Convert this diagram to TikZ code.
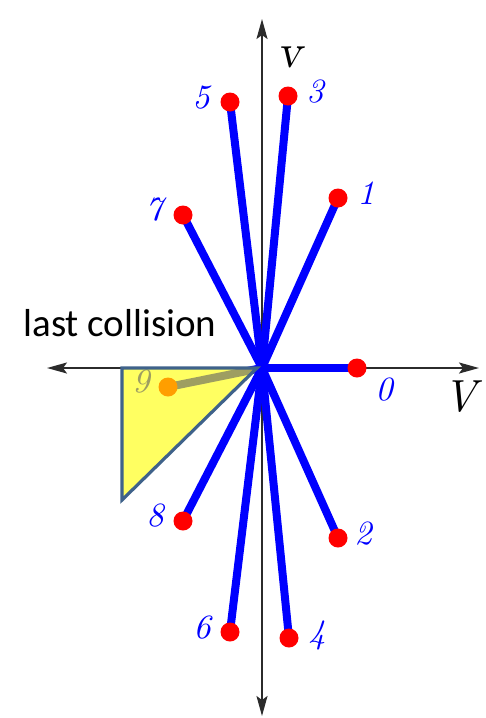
\documentclass[tikz,border=0pt]{standalone}
\usepackage{fontspec}
\usepackage{tikz}
\usetikzlibrary{arrows.meta}
\newfontfamily\calibrifont{Carlito}
\newfontfamily\cmitfont{lmroman10-italic}[Extension=.otf]
\newfontfamily\cmslfont{lmromanslant10-regular}[Extension=.otf]
\definecolor{rayblue}{HTML}{0000FF}
\definecolor{tipred}{HTML}{FF0000}
\definecolor{axisgray}{HTML}{2B2B2B}
\definecolor{hiyellow}{HTML}{FFFF00}
\definecolor{hiedge}{HTML}{3F628A}
\tikzset{
  axisline/.style={
    {Stealth[length=20pt,width=11pt,inset=4pt]}-{Stealth[length=20pt,width=11pt,inset=4pt]},
    line width=2pt,
    draw=axisgray
  },
  ray/.style={
    line width=8pt,
    draw=rayblue
  },
  tipdot/.style={
    circle,
    fill=tipred,
    minimum size=19pt,
    inner sep=0pt
  },
  raylabel/.style={
    text=rayblue,
    inner sep=0pt,
    font=\cmitfont\fontsize{34}{40}\selectfont
  },
  axislabel/.style={
    text=black,
    inner sep=0pt
  },
  wedge/.style={
    fill=hiyellow,
    fill opacity=0.62,
    draw=hiedge,
    line width=3.2pt,
    line join=miter
  }
}

\begin{document}
\begin{tikzpicture}[x=1pt,y=-1pt]
  \useasboundingbox (0,0) rectangle (486,718);

  % axes
  \coordinate (o) at (262,368);
  \coordinate (xl) at (47,368);
  \coordinate (xr) at (479,368);
  \coordinate (yt) at (262,19);
  \coordinate (yb) at (262,716);
  \draw[axisline] (xl) -- (xr);
  \draw[axisline] (yb) -- (yt);
  \node[axislabel] (bigv) at (460,397) {\cmitfont\fontsize{45}{52}\selectfont V};
  \node[axislabel] (smallv) at (290,57) {\cmslfont\fontsize{48}{54}\selectfont v};

  % velocity tips
  \coordinate (c0) at (357,368);
  \coordinate (c1) at (338,198);
  \coordinate (c2) at (338,538);
  \coordinate (c3) at (288,96);
  \coordinate (c4) at (289,638);
  \coordinate (c5) at (230,102);
  \coordinate (c6) at (230,632);
  \coordinate (c7) at (183,215);
  \coordinate (c8) at (183,521);
  \coordinate (c9) at (168,387);

  \foreach \k in {0,...,9}
    \draw[ray] (o) -- (c\k);
  \foreach \k in {0,...,9}
    \node[tipdot] (p\k) at (c\k) {};

  \node[raylabel] (l0) at (384,390) {0};
  \node[raylabel] (l1) at (366,193) {1};
  \node[raylabel] (l2) at (363,534) {2};
  \node[raylabel] (l3) at (315,92) {3};
  \node[raylabel] (l4) at (317,635) {4};
  \node[raylabel] (l5) at (201,98) {5};
  \node[raylabel] (l6) at (202,628) {6};
  \node[raylabel] (l7) at (154,210) {7};
  \node[raylabel] (l8) at (155,516) {8};
  \node[raylabel] (l9) at (141,382) {9};

  % last collision region
  \coordinate (w1) at (122,368);
  \coordinate (w2) at (257,368);
  \coordinate (w3) at (122,500);
  \draw[wedge] (w1) -- (w2) -- (w3) -- cycle;
  \node[font=\calibrifont\fontsize{39}{44}\selectfont, inner sep=0pt] (lastc) at (120,323) {last collision};
\end{tikzpicture}
\end{document}
